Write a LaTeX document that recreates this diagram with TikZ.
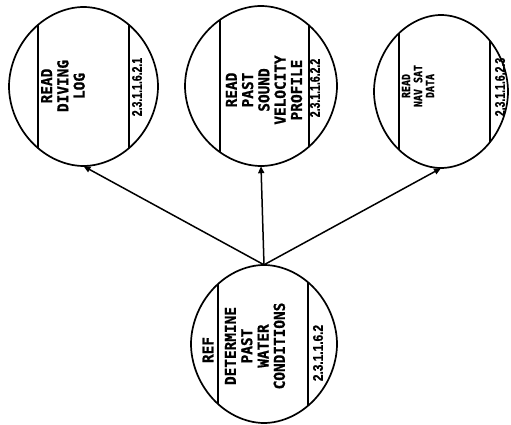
\documentclass[tikz,border=0pt]{standalone}
\usepackage{fontspec}
\usetikzlibrary{shapes.geometric,arrows.meta}
\newfontfamily\labfont{DejaVu Sans Mono}[FakeStretch=0.96,FakeBold=1]
\newfontfamily\smallfont{DejaVu Sans Mono}[FakeStretch=0.87,FakeBold=0.8]
\newfontfamily\numfont{Liberation Sans}[FakeStretch=0.75,FakeBold=0.8]
\newfontfamily\numwfont{Liberation Sans}[FakeStretch=0.85,FakeBold=0.8]
% rounded outline: centre x, centre y, half width, half height
\newcommand{\blobpath}[4]{plot[domain=0.5:360.5,samples=121,smooth]
  ({#1+#3*((cos(\x)<0)?-1:1)*pow(abs(cos(\x)),1.04)},
   {#2+#4*((sin(\x)<0)?-1:1)*pow(abs(sin(\x)),1.04)}) -- cycle}
\tikzset{
  anchorblob/.style={ellipse, inner sep=0pt},
  outline/.style={line width=1.7pt},
  divider/.style={line width=1.3pt},
  maintext/.style={rotate=90, align=center, inner sep=0pt,
    font=\labfont\bfseries\fontsize{15}{16.3}\selectfont},
  smalltext/.style={rotate=90, align=center, inner sep=0pt,
    font=\smallfont\bfseries\fontsize{11.5}{12}\selectfont},
  numtext/.style={rotate=90, inner sep=0pt,
    font=\numfont\bfseries\fontsize{14}{14}\selectfont},
  numwtext/.style={rotate=90, inner sep=0pt,
    font=\numwfont\bfseries\fontsize{14}{14}\selectfont},
  flow/.style={line width=1.5pt, -{Triangle[length=7pt,width=6pt]}}
}
\begin{document}
\begin{tikzpicture}[x=1pt,y=-1pt]
\useasboundingbox (0,0) rectangle (511,425);
\fill[white] (0,0) rectangle (511,425);

% bubbles (named anchors)
\node[anchorblob, minimum width=149pt, minimum height=159pt] (c1) at (83.5,86.5) {};
\node[anchorblob, minimum width=152pt, minimum height=160pt] (c2) at (261,86) {};
\node[anchorblob, minimum width=134pt, minimum height=153pt] (c3) at (441,91.5) {};
\node[anchorblob, minimum width=146pt, minimum height=158pt] (c4) at (264,344) {};

% dividers
\begin{scope}
  \clip \blobpath{83.5}{86.5}{74.5}{79.5};
  \draw[divider] (38,0) -- (38,200);
  \draw[divider] (129,0) -- (129,200);
\end{scope}
\begin{scope}
  \clip \blobpath{261}{86}{76}{80};
  \draw[divider] (220,0) -- (220,200);
  \draw[divider] (309,0) -- (309,200);
\end{scope}
\begin{scope}
  \clip \blobpath{441}{91.5}{67}{76.5};
  \draw[divider] (399,0) -- (399,200);
  \draw[divider] (490,0) -- (490,200);
\end{scope}
\begin{scope}
  \clip \blobpath{264}{344}{73}{79};
  \draw[divider] (218,250) -- (218,430);
  \draw[divider] (308,250) -- (308,430);
\end{scope}

% outlines
\draw[outline] \blobpath{83.5}{86.5}{74.5}{79.5};
\draw[outline] \blobpath{261}{86}{76}{80};
\draw[outline] \blobpath{441}{91.5}{67}{76.5};
\draw[outline] \blobpath{264}{344}{73}{79};

% texts
\node[maintext] (t1) at (63,86) {READ\\DIVING\\LOG};
\node[numtext] (n1) at (137,87) {2.3.1.1.6.2.1};

\node[maintext] (t2) at (264,90) {READ\\PAST\\SOUND\\VELOCITY\\PROFILE};
\node[numtext] (n2) at (315,88) {2.3.1.1.6.2.2};

\node[smalltext] (t3) at (418,86) {READ\\NAV SAT\\DATA};
\node[numtext] (n3) at (500,87) {2.3.1.1.6.2.3};

\node[maintext] (r4) at (208,350) {REF};
\node[maintext] (t4) at (255,346) {DETERMINE\\PAST\\WATER\\CONDITIONS};
\node[numwtext] (n4) at (318,353) {2.3.1.1.6.2};

% connectors
\draw[flow] (c4.north) -- (c1.south);
\draw[flow] (c4.north) -- (c2.south);
\draw[flow] (c4.north) -- (c3.south);
\end{tikzpicture}
\end{document}
